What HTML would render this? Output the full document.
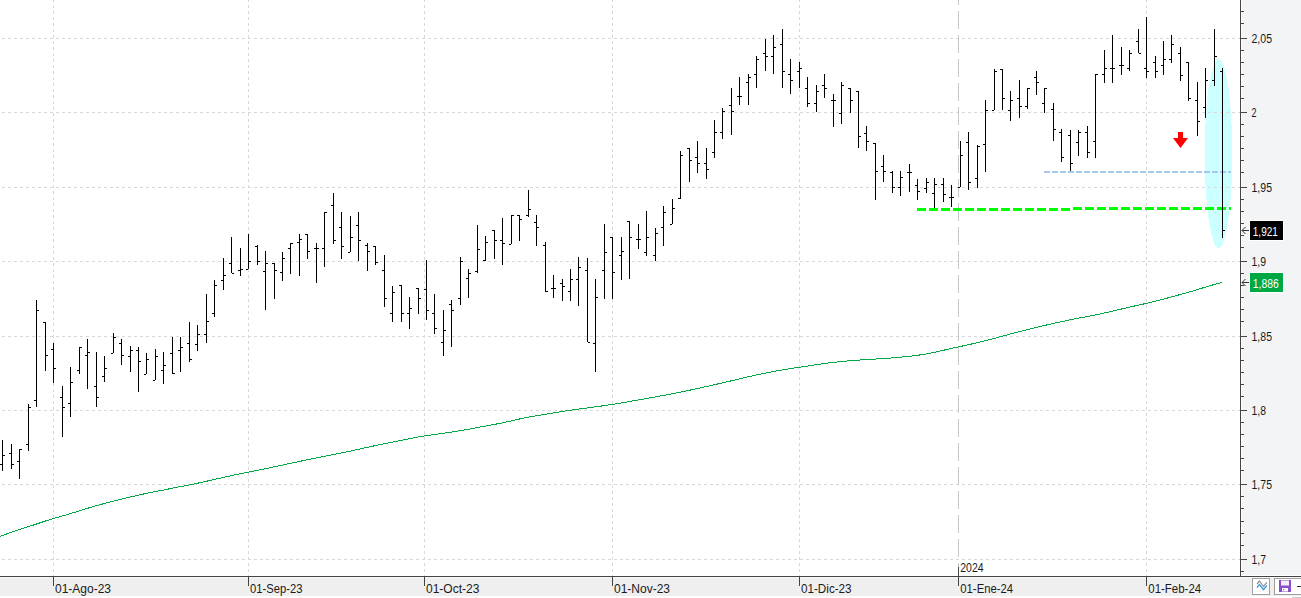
<!DOCTYPE html><html><head><meta charset="utf-8"><style>html,body{margin:0;padding:0;width:1301px;height:598px;overflow:hidden;background:#fff}svg{display:block}text{font-family:"Liberation Sans",sans-serif}</style></head><body>
<svg width="1301" height="598" viewBox="0 0 1301 598">
<rect x="0" y="0" width="1301" height="598" fill="#ffffff"/>
<rect x="1242" y="0" width="59" height="575" fill="#f3f4f6"/>
<rect x="0" y="577" width="1301" height="1" fill="#f7f7f7"/>
<rect x="0" y="578" width="1301" height="18" fill="#efefef"/>
<rect x="1292" y="597" width="9" height="1" fill="#c8c8c8"/>
<ellipse cx="1218.5" cy="153.6" rx="13.7" ry="94.5" fill="#ccffff" shape-rendering="crispEdges"/>
<g shape-rendering="crispEdges" stroke="#d8d8d8" stroke-width="1" fill="none">
<line x1="0" y1="38.5" x2="1240" y2="38.5" stroke-dasharray="3 3" stroke-dashoffset="4"/>
<line x1="0" y1="112.5" x2="1240" y2="112.5" stroke-dasharray="3 3" stroke-dashoffset="4"/>
<line x1="0" y1="187.5" x2="1240" y2="187.5" stroke-dasharray="3 3" stroke-dashoffset="4"/>
<line x1="0" y1="261.5" x2="1240" y2="261.5" stroke-dasharray="3 3" stroke-dashoffset="4"/>
<line x1="0" y1="336.5" x2="1240" y2="336.5" stroke-dasharray="3 3" stroke-dashoffset="4"/>
<line x1="0" y1="410.5" x2="1240" y2="410.5" stroke-dasharray="3 3" stroke-dashoffset="4"/>
<line x1="0" y1="484.5" x2="1240" y2="484.5" stroke-dasharray="3 3" stroke-dashoffset="4"/>
<line x1="0" y1="559.5" x2="1240" y2="559.5" stroke-dasharray="3 3" stroke-dashoffset="4"/>
<line x1="53.5" y1="0" x2="53.5" y2="576" stroke-dasharray="3 3" stroke-dashoffset="1"/>
<line x1="248.5" y1="0" x2="248.5" y2="576" stroke-dasharray="3 3" stroke-dashoffset="1"/>
<line x1="424.5" y1="0" x2="424.5" y2="576" stroke-dasharray="3 3" stroke-dashoffset="1"/>
<line x1="612.5" y1="0" x2="612.5" y2="576" stroke-dasharray="3 3" stroke-dashoffset="1"/>
<line x1="799.5" y1="0" x2="799.5" y2="576" stroke-dasharray="3 3" stroke-dashoffset="1"/>
<line x1="1146.5" y1="0" x2="1146.5" y2="576" stroke-dasharray="3 3" stroke-dashoffset="1"/>
</g>
<line x1="958.5" y1="0" x2="958.5" y2="567" stroke="#c8c8c8" stroke-width="1" stroke-dasharray="18 6" stroke-dashoffset="13" shape-rendering="crispEdges"/>
<polyline points="0,536.35 2.49,535.43 10.96,532.41 19.43,529.58 27.9,526.83 36.37,524.05 44.84,521.24 53.31,518.6 61.78,516.16 70.25,513.69 78.72,511.08 87.19,508.43 95.66,505.89 104.13,503.59 112.6,501.43 121.08,499.31 129.55,497.21 138.02,495.19 146.49,493.34 154.96,491.68 163.43,490.05 171.9,488.3 180.37,486.6 188.84,485.01 197.31,483.28 205.78,481.4 214.25,479.51 222.72,477.58 231.19,475.64 239.67,473.87 248.14,472.21 256.61,470.5 265.08,468.74 273.55,466.97 282.02,465.15 290.49,463.32 298.96,461.54 307.43,459.79 315.9,458.03 324.37,456.26 332.84,454.56 341.31,452.91 349.78,451.18 358.26,449.34 366.73,447.47 375.2,445.63 383.67,443.89 392.14,442.2 400.61,440.46 409.08,438.73 417.55,437.14 426.02,435.73 434.49,434.46 442.96,433.26 451.43,432.03 459.9,430.7 468.37,429.24 476.85,427.65 485.32,426.08 493.79,424.55 502.26,422.89 510.73,421.01 519.2,419.07 527.67,417.33 536.14,415.82 544.61,414.39 553.08,412.92 561.55,411.55 570.02,410.32 578.49,409.14 586.96,408.0 595.43,406.87 603.91,405.67 612.38,404.39 620.85,403.01 629.32,401.54 637.79,400.06 646.26,398.54 654.73,396.99 663.2,395.46 671.67,393.89 680.14,392.2 688.61,390.42 697.08,388.59 705.55,386.71 714.02,384.8 722.5,382.88 730.97,380.9 739.44,378.86 747.91,376.89 756.38,375.01 764.85,373.18 773.32,371.5 781.79,370.02 790.26,368.63 798.73,367.33 807.2,366.07 815.67,364.78 824.14,363.54 832.61,362.46 841.09,361.54 849.56,360.77 858.03,360.12 866.5,359.57 874.97,359.06 883.44,358.54 891.91,357.95 900.38,357.22 908.85,356.35 917.32,355.35 925.79,354.04 934.26,352.31 942.73,350.41 951.2,348.5 959.67,346.62 968.15,344.78 976.62,342.87 985.09,340.82 993.56,338.61 1002.03,336.29 1010.5,333.97 1018.97,331.73 1027.44,329.57 1035.91,327.48 1044.38,325.5 1052.85,323.57 1061.32,321.7 1069.79,319.92 1078.26,318.24 1086.74,316.62 1095.21,314.95 1103.68,313.15 1112.15,311.21 1120.62,309.21 1129.09,307.23 1137.56,305.33 1146.03,303.46 1154.5,301.48 1162.97,299.28 1171.44,296.95 1179.91,294.65 1188.38,292.29 1196.85,289.74 1205.33,287.13 1213.8,284.62 1222.27,282.28" fill="none" stroke="#00a846" stroke-width="1" shape-rendering="crispEdges"/>
<line x1="1044" y1="172" x2="1231" y2="172" stroke="#a4c8ee" stroke-width="2" stroke-dasharray="6 2" shape-rendering="crispEdges"/>
<path d="M917 209.5H1073" stroke="#00ff00" stroke-width="3" stroke-dasharray="9 3" fill="none" shape-rendering="crispEdges"/>
<path d="M1073 208.5H1231" stroke="#00ff00" stroke-width="3" stroke-dasharray="9 3" fill="none" shape-rendering="crispEdges"/>
<path d="M2.5 440V471M0 464.5H2M3 455.5H5M11.5 444V469M9 453.5H11M12 464.5H14M19.5 449V479M17 461.5H19M20 449.5H22M28.5 404V451M26 444.5H28M29 407.5H31M36.5 300V407M34 400.5H36M37 310.5H39M45.5 322V371M43 322.5H45M46 355.5H48M53.5 343V383M51 349.5H53M54 368.5H56M62.5 386V437M60 397.5H62M63 407.5H65M70.5 367V417M68 403.5H70M71 382.5H73M79.5 347V374M77 370.5H79M80 347.5H82M87.5 339V389M85 355.5H87M88 352.5H90M96.5 352V407M94 386.5H96M97 397.5H99M104.5 356V382M102 376.5H104M105 368.5H107M113.5 333V353M111 353.5H113M114 337.5H116M121.5 339V365M119 343.5H121M122 355.5H124M130.5 346V372M128 356.5H130M131 350.5H133M138.5 347V392M136 350.5H138M139 361.5H141M146.5 353V374M144 374.5H146M147 359.5H149M155.5 349V380M153 380.5H155M156 356.5H158M163.5 352V384M161 370.5H163M164 365.5H166M172.5 337V374M170 353.5H172M173 373.5H175M180.5 337V372M178 350.5H180M181 347.5H183M189.5 322V362M187 343.5H189M190 359.5H192M197.5 325V351M195 344.5H197M198 334.5H200M206.5 294V343M204 334.5H206M207 321.5H209M214.5 280V317M212 313.5H214M215 285.5H217M223.5 258V290M221 280.5H223M224 275.5H226M231.5 237V273M229 263.5H231M232 273.5H234M240.5 248V276M238 270.5H240M241 269.5H243M248.5 234V269M246 269.5H248M249 261.5H251M257.5 245V265M255 246.5H257M258 261.5H260M265.5 251V310M263 271.5H265M266 263.5H268M274.5 263V299M272 263.5H274M275 270.5H277M282.5 252V281M280 272.5H282M283 258.5H285M290.5 243V274M288 248.5H290M291 243.5H293M299.5 234V276M297 242.5H299M300 239.5H302M307.5 234V259M305 234.5H307M308 251.5H310M316.5 243V283M314 248.5H316M317 248.5H319M324.5 212V267M322 248.5H324M325 212.5H327M333.5 193V244M331 205.5H333M334 240.5H336M341.5 212V259M339 227.5H341M342 246.5H344M350.5 216V252M348 252.5H350M351 237.5H353M358.5 212V261M356 225.5H358M359 240.5H361M367.5 243V271M365 245.5H367M368 251.5H370M375.5 246V265M373 246.5H375M376 262.5H378M384.5 255V307M382 270.5H384M385 298.5H387M392.5 286V322M390 313.5H392M393 292.5H395M401.5 285V322M399 285.5H401M402 313.5H404M409.5 297V329M407 313.5H409M410 308.5H412M418.5 288V314M416 288.5H418M419 298.5H421M426.5 260V320M424 289.5H426M427 310.5H429M434.5 294V334M432 313.5H434M435 328.5H437M443.5 310V356M441 342.5H443M444 330.5H446M451.5 300V347M449 304.5H451M452 310.5H454M460.5 257V305M458 298.5H460M461 261.5H463M468.5 269V298M466 278.5H468M469 273.5H471M477.5 225V273M475 271.5H477M478 249.5H480M485.5 236V261M483 260.5H485M486 242.5H488M494.5 230V259M492 230.5H494M495 240.5H497M502.5 218V265M500 240.5H502M503 243.5H505M511.5 215V244M509 244.5H511M512 215.5H514M519.5 215V241M517 215.5H519M520 219.5H522M528.5 190V217M526 215.5H528M529 209.5H531M536.5 215V246M534 222.5H536M537 227.5H539M545.5 242V292M543 245.5H545M546 291.5H548M553.5 275V298M551 288.5H553M554 288.5H556M562.5 279V301M560 283.5H562M563 286.5H565M570.5 269V301M568 291.5H570M571 279.5H573M578.5 257V306M576 279.5H578M579 267.5H581M587.5 258V342M585 270.5H587M588 342.5H590M595.5 279V372M593 343.5H595M596 297.5H598M604.5 224V299M602 270.5H604M605 252.5H607M612.5 237V299M610 237.5H612M613 272.5H615M621.5 237V280M619 255.5H621M622 251.5H624M629.5 221V279M627 221.5H629M630 237.5H632M638.5 224V249M636 239.5H638M639 239.5H641M646.5 211V256M644 252.5H646M647 237.5H649M655.5 228V261M653 255.5H655M656 233.5H658M663.5 206V246M661 227.5H663M664 212.5H666M672.5 199V224M670 224.5H672M673 208.5H675M680.5 151V199M678 198.5H680M681 155.5H683M689.5 148V182M687 148.5H689M690 160.5H692M697.5 141V173M695 157.5H697M698 163.5H700M706.5 148V179M704 163.5H706M707 169.5H709M714.5 120V158M712 152.5H714M715 132.5H717M722.5 108V139M720 132.5H722M723 111.5H725M731.5 88V135M729 105.5H731M732 111.5H734M739.5 77V105M737 96.5H739M740 96.5H742M748.5 74V105M746 82.5H748M749 77.5H751M756.5 56V88M754 74.5H756M757 59.5H759M765.5 39V71M763 53.5H765M766 56.5H768M773.5 35V74M771 56.5H773M774 47.5H776M782.5 29V88M780 44.5H782M783 71.5H785M790.5 59V94M788 74.5H790M791 80.5H793M799.5 62V88M797 71.5H799M800 68.5H802M807.5 77V107M805 88.5H807M808 103.5H810M816.5 85V112M814 103.5H816M817 91.5H819M824.5 74V98M822 85.5H824M825 88.5H827M833.5 94V127M831 100.5H833M834 100.5H836M841.5 82V124M839 113.5H841M842 85.5H844M850.5 88V113M848 88.5H850M851 100.5H853M858.5 91V148M856 91.5H858M859 136.5H861M866.5 126V151M864 133.5H866M867 141.5H869M875.5 143V200M873 143.5H875M876 171.5H878M883.5 155V182M881 166.5H883M884 171.5H886M892.5 171V193M890 172.5H892M893 187.5H895M900.5 171V196M898 187.5H900M901 177.5H903M909.5 164V192M907 172.5H909M910 172.5H912M917.5 179V200M915 185.5H917M918 191.5H920M926.5 178V193M924 188.5H926M927 182.5H929M934.5 178V208M932 193.5H934M935 184.5H937M943.5 178V202M941 184.5H943M944 194.5H946M951.5 185V207M949 197.5H951M952 197.5H954M960.5 141V187M958 187.5H960M961 155.5H963M968.5 132V190M966 142.5H968M969 182.5H971M977.5 145V188M975 178.5H977M978 146.5H980M985.5 100V172M983 144.5H985M986 110.5H988M994.5 69V110M992 110.5H994M995 71.5H997M1002.5 69V110M1000 69.5H1002M1003 98.5H1005M1010.5 91V121M1008 110.5H1010M1011 100.5H1013M1019.5 80V118M1017 98.5H1019M1020 106.5H1022M1027.5 88V109M1025 106.5H1027M1028 88.5H1030M1036.5 71V95M1034 77.5H1036M1037 82.5H1039M1044.5 88V113M1042 103.5H1044M1045 88.5H1047M1053.5 103V141M1051 109.5H1053M1054 129.5H1056M1061.5 129V162M1059 132.5H1061M1062 157.5H1064M1070.5 130V171M1068 135.5H1070M1071 163.5H1073M1078.5 130V156M1076 142.5H1078M1079 132.5H1081M1087.5 126V158M1085 132.5H1087M1088 152.5H1090M1095.5 74V158M1093 141.5H1095M1096 74.5H1098M1104.5 50V83M1102 74.5H1104M1105 68.5H1107M1112.5 35V83M1110 68.5H1112M1113 68.5H1115M1121.5 47V75M1119 65.5H1121M1122 65.5H1124M1129.5 50V71M1127 68.5H1129M1130 53.5H1132M1138.5 29V53M1136 41.5H1138M1139 53.5H1141M1146.5 17V78M1144 68.5H1146M1147 71.5H1149M1155.5 56V78M1153 62.5H1155M1156 71.5H1158M1163.5 41V75M1161 65.5H1163M1164 59.5H1166M1171.5 35V63M1169 59.5H1171M1172 44.5H1174M1180.5 47V81M1178 53.5H1180M1181 75.5H1183M1188.5 62V101M1186 62.5H1188M1189 98.5H1191M1197.5 82V136M1195 100.5H1197M1198 121.5H1200M1205.5 68V118M1203 107.5H1205M1206 80.5H1208M1214.5 29V86M1212 80.5H1214M1215 56.5H1217M1222.5 68V238M1220 71.5H1222M1223 230.5H1225" stroke="#000" stroke-width="1" fill="none" shape-rendering="crispEdges"/>
<path d="M1178 132H1183V138H1188L1180.5 148L1173 138H1178Z" fill="#ff0000"/>
<g shape-rendering="crispEdges" stroke="#444" stroke-width="1" fill="none">
<line x1="1240.5" y1="0" x2="1240.5" y2="576"/>
<line x1="0" y1="576.5" x2="1301" y2="576.5"/>
<line x1="1241" y1="38.5" x2="1247" y2="38.5"/>
<line x1="1241" y1="112.5" x2="1247" y2="112.5"/>
<line x1="1241" y1="187.5" x2="1247" y2="187.5"/>
<line x1="1241" y1="261.5" x2="1247" y2="261.5"/>
<line x1="1241" y1="336.5" x2="1247" y2="336.5"/>
<line x1="1241" y1="410.5" x2="1247" y2="410.5"/>
<line x1="1241" y1="484.5" x2="1247" y2="484.5"/>
<line x1="1241" y1="559.5" x2="1247" y2="559.5"/>
<line x1="1241" y1="-0.5" x2="1244" y2="-0.5"/>
<line x1="1241" y1="11.5" x2="1244" y2="11.5"/>
<line x1="1241" y1="23.5" x2="1244" y2="23.5"/>
<line x1="1241" y1="50.5" x2="1244" y2="50.5"/>
<line x1="1241" y1="62.5" x2="1244" y2="62.5"/>
<line x1="1241" y1="74.5" x2="1244" y2="74.5"/>
<line x1="1241" y1="86.5" x2="1244" y2="86.5"/>
<line x1="1241" y1="98.5" x2="1244" y2="98.5"/>
<line x1="1241" y1="124.5" x2="1244" y2="124.5"/>
<line x1="1241" y1="136.5" x2="1244" y2="136.5"/>
<line x1="1241" y1="148.5" x2="1244" y2="148.5"/>
<line x1="1241" y1="160.5" x2="1244" y2="160.5"/>
<line x1="1241" y1="172.5" x2="1244" y2="172.5"/>
<line x1="1241" y1="199.5" x2="1244" y2="199.5"/>
<line x1="1241" y1="211.5" x2="1244" y2="211.5"/>
<line x1="1241" y1="223.5" x2="1244" y2="223.5"/>
<line x1="1241" y1="235.5" x2="1244" y2="235.5"/>
<line x1="1241" y1="247.5" x2="1244" y2="247.5"/>
<line x1="1241" y1="273.5" x2="1244" y2="273.5"/>
<line x1="1241" y1="285.5" x2="1244" y2="285.5"/>
<line x1="1241" y1="297.5" x2="1244" y2="297.5"/>
<line x1="1241" y1="309.5" x2="1244" y2="309.5"/>
<line x1="1241" y1="321.5" x2="1244" y2="321.5"/>
<line x1="1241" y1="348.5" x2="1244" y2="348.5"/>
<line x1="1241" y1="360.5" x2="1244" y2="360.5"/>
<line x1="1241" y1="372.5" x2="1244" y2="372.5"/>
<line x1="1241" y1="384.5" x2="1244" y2="384.5"/>
<line x1="1241" y1="396.5" x2="1244" y2="396.5"/>
<line x1="1241" y1="422.5" x2="1244" y2="422.5"/>
<line x1="1241" y1="434.5" x2="1244" y2="434.5"/>
<line x1="1241" y1="446.5" x2="1244" y2="446.5"/>
<line x1="1241" y1="458.5" x2="1244" y2="458.5"/>
<line x1="1241" y1="470.5" x2="1244" y2="470.5"/>
<line x1="1241" y1="496.5" x2="1244" y2="496.5"/>
<line x1="1241" y1="508.5" x2="1244" y2="508.5"/>
<line x1="1241" y1="521.5" x2="1244" y2="521.5"/>
<line x1="1241" y1="533.5" x2="1244" y2="533.5"/>
<line x1="1241" y1="545.5" x2="1244" y2="545.5"/>
<line x1="1241" y1="571.5" x2="1244" y2="571.5"/>
<line x1="53.5" y1="577" x2="53.5" y2="586"/>
<line x1="248.5" y1="577" x2="248.5" y2="586"/>
<line x1="424.5" y1="577" x2="424.5" y2="586"/>
<line x1="612.5" y1="577" x2="612.5" y2="586"/>
<line x1="799.5" y1="577" x2="799.5" y2="586"/>
<line x1="958.5" y1="577" x2="958.5" y2="586"/>
<line x1="1146.5" y1="577" x2="1146.5" y2="586"/>
<line x1="958.5" y1="567" x2="958.5" y2="577"/>
</g>
<text x="1251.5" y="43" font-size="12.5" fill="#1a1a1a" textLength="20.5" lengthAdjust="spacingAndGlyphs">2,05</text>
<text x="1251.5" y="117" font-size="12.5" fill="#1a1a1a" textLength="5" lengthAdjust="spacingAndGlyphs">2</text>
<text x="1251.5" y="192" font-size="12.5" fill="#1a1a1a" textLength="20.5" lengthAdjust="spacingAndGlyphs">1,95</text>
<text x="1251.5" y="266" font-size="12.5" fill="#1a1a1a" textLength="14.5" lengthAdjust="spacingAndGlyphs">1,9</text>
<text x="1251.5" y="341" font-size="12.5" fill="#1a1a1a" textLength="20.5" lengthAdjust="spacingAndGlyphs">1,85</text>
<text x="1251.5" y="415" font-size="12.5" fill="#1a1a1a" textLength="14.5" lengthAdjust="spacingAndGlyphs">1,8</text>
<text x="1251.5" y="489" font-size="12.5" fill="#1a1a1a" textLength="20.5" lengthAdjust="spacingAndGlyphs">1,75</text>
<text x="1251.5" y="564" font-size="12.5" fill="#1a1a1a" textLength="14.5" lengthAdjust="spacingAndGlyphs">1,7</text>
<rect x="1249.5" y="220.5" width="34" height="20" fill="#000" stroke="#fff" stroke-width="1"/>
<text x="1252.8" y="236" font-size="12.5" fill="#fff" textLength="25" lengthAdjust="spacingAndGlyphs">1,921</text>
<rect x="1249.5" y="272.5" width="34" height="20" fill="#00a844" stroke="#fff" stroke-width="1"/>
<text x="1252.8" y="288.3" font-size="12.5" fill="#fff" textLength="26" lengthAdjust="spacingAndGlyphs">1,886</text>
<g stroke="#333" stroke-width="1" fill="none">
<path d="M1242 230.5H1249M1245.5 227L1242 230.5L1245.5 234"/>
<path d="M1242 282.5H1249M1245.5 279L1242 282.5L1245.5 286"/>
</g>
<text x="55" y="593" font-size="12" fill="#1a1a1a">01-Ago-23</text>
<text x="250" y="593" font-size="12" fill="#1a1a1a" textLength="52.4" lengthAdjust="spacingAndGlyphs">01-Sep-23</text>
<text x="426" y="593" font-size="12" fill="#1a1a1a">01-Oct-23</text>
<text x="614" y="593" font-size="12" fill="#1a1a1a">01-Nov-23</text>
<text x="801" y="593" font-size="12" fill="#1a1a1a" textLength="50.6" lengthAdjust="spacingAndGlyphs">01-Dic-23</text>
<text x="960.3" y="593" font-size="12" fill="#1a1a1a" textLength="52.8" lengthAdjust="spacingAndGlyphs">01-Ene-24</text>
<text x="1148.3" y="593" font-size="12" fill="#1a1a1a" textLength="52.9" lengthAdjust="spacingAndGlyphs">01-Feb-24</text>
<text x="960.3" y="572" font-size="12" fill="#1a1a1a" textLength="23.3" lengthAdjust="spacingAndGlyphs">2024</text>
<rect x="1252.5" y="578.5" width="17" height="16" fill="#fff" stroke="#a0a0a0" stroke-width="1"/>
<polyline points="1257,584 1259.5,581 1263.5,586.5 1266.8,582.3" fill="none" stroke="#909090" stroke-width="1.2"/>
<polyline points="1257,587.5 1259.5,584.5 1263.5,589.7 1266.8,585.5" fill="none" stroke="#3a9ad9" stroke-width="1.3"/>
<rect x="1274.5" y="578.5" width="30" height="16" fill="#fff" stroke="#a0a0a0" stroke-width="1"/>
<rect x="1279" y="580" width="12" height="12" fill="#8a4fc8"/>
<rect x="1281" y="580.5" width="8" height="5" fill="#f4eefc"/>
<rect x="1282" y="588" width="6" height="3.5" fill="#fff"/>
<rect x="1283" y="589" width="1.2" height="1.2" fill="#8a4fc8"/>
<rect x="1297" y="586" width="4" height="1" fill="#333"/>
</svg></body></html>
